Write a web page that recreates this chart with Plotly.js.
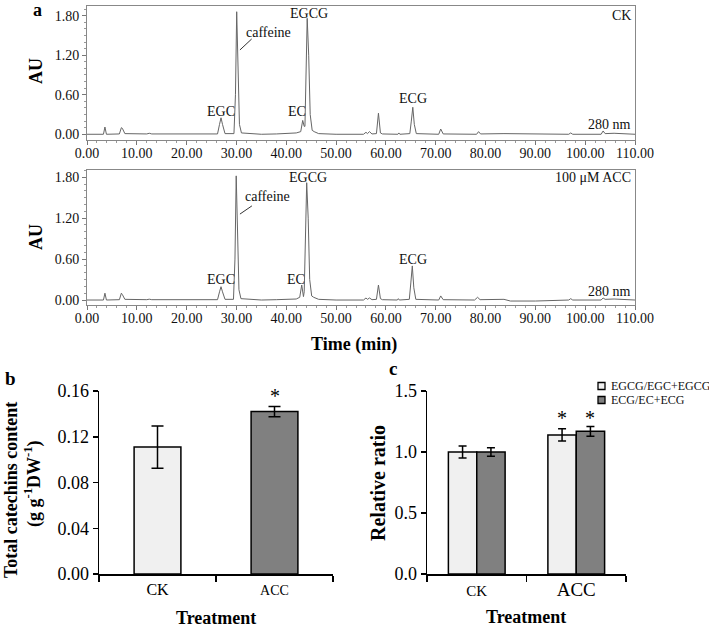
<!DOCTYPE html>
<html><head><meta charset="utf-8">
<script src="https://cdn.plot.ly/plotly-3.0.1.min.js"></script>
<style>html,body{margin:0;padding:0;background:#fff}</style>
</head><body><div id="chart" style="width:709px;height:629px"></div>
<script>
// ---- chromatogram data ----
const timeCK = [0,3.3,3.6,3.9,6.5,6.9,7.1,7.6,12,12.5,13,26.2,26.6,26.9,27.2,27.7,29.5,29.8,30.05,30.3,30.6,31.0,35,38,40,42,42.9,43.3,43.6,43.75,44.2,44.5,44.8,45.2,45.6,45.9,46.5,50,55.5,56.0,56.3,56.7,57.2,58.1,58.5,58.9,59.3,62.4,62.6,62.8,64.8,65.1,65.4,65.7,66.1,70.6,71.0,71.5,78.2,78.6,79.0,83.7,96.7,97.1,97.5,103.2,103.6,104.0,105.8,110];
const auCK = [0,0,0.11,0.0,0.005,0.10,0.09,0.01,0.005,0.015,0.005,0.005,0.15,0.25,0.15,0.01,0.01,0.6,1.86,1.0,0.15,0.02,0.0,0.005,0.01,0.02,0.04,0.21,0.12,0.12,1.76,1.2,0.3,0.06,0.04,0.03,0.01,0.0,0.0,0.03,0.01,0.04,0.005,0.01,0.32,0.02,0.005,0.0,0.02,0.0,0.01,0.2,0.41,0.15,0.01,0.0,0.08,0.005,0.0,0.04,0.005,0.01,0.0,0.02,0.0,0.0,0.05,0.01,0.015,0.0];
const timeACC = [0,3.3,3.6,3.9,6.5,6.9,7.1,7.6,12,12.5,13,26.2,26.6,26.9,27.2,27.7,29.4,29.7,29.95,30.2,30.5,30.9,35,38,40,42,42.7,43.1,43.45,43.6,44.1,44.4,44.7,45.1,45.5,45.9,46.5,50,55.5,56.0,56.3,56.7,57.2,58.1,58.5,58.9,59.3,62.3,62.5,62.7,64.7,65.0,65.3,65.6,66.0,70.6,71.0,71.5,77.8,78.4,78.9,83.7,85,90,96.7,97.1,97.5,103.2,103.6,104.0,105.8,110];
const auACC = [0,0,0.10,0.0,0.005,0.10,0.08,0.01,0.005,0.012,0.005,0.005,0.12,0.195,0.12,0.01,0.01,0.6,1.82,1.0,0.15,0.02,0.0,0.005,0.01,0.015,0.04,0.22,0.05,0.12,1.72,1.2,0.3,0.06,0.04,0.03,0.01,0.0,0.0,0.03,0.01,0.03,0.005,0.01,0.22,0.02,0.005,0.0,0.02,0.0,0.01,0.25,0.50,0.18,0.01,0.0,0.06,0.005,0.0,0.04,0.005,0.01,-0.015,-0.015,0.0,0.02,0.0,0.0,0.03,0.01,0.015,0.0];

// ---- bar data ----
const treatments = ['CK','ACC'];
const totalCatechins = [0.111, 0.142];
const totalCatechinsErr = [0.0185, 0.0045];
const ratioNames = ['EGCG/EGC+EGCG','ECG/EC+ECG'];
const ratioEGCG = [1.0, 1.14];
const ratioEGCGErr = [0.05, 0.05];
const ratioECG = [1.0, 1.17];
const ratioECGErr = [0.035, 0.04];

const W = 709, H = 629;
const px = v => v / W;
const py = v => 1 - v / H;
const FONT = 'Liberation Serif, Times New Roman, serif';

const traces = [
  {x: timeCK, y: auCK, type:'scatter', mode:'lines', line:{color:'#666', width:1}, xaxis:'x', yaxis:'y', hoverinfo:'skip'},
  {x: timeACC, y: auACC, type:'scatter', mode:'lines', line:{color:'#666', width:1}, xaxis:'x2', yaxis:'y2', hoverinfo:'skip'},
  {x: treatments, y: totalCatechins, type:'bar', xaxis:'x3', yaxis:'y3', width:0.4,
   marker:{color:['#f0f0f0','#808080'], line:{color:'#000', width:1.5}},
   error_y:{type:'data', array: totalCatechinsErr, visible:true, color:'#000', thickness:1.5, width:6}},
  {x: treatments, y: ratioEGCG, name: ratioNames[0], type:'bar', xaxis:'x4', yaxis:'y4', width:0.285, offset:-0.285,
   marker:{color:'#f0f0f0', line:{color:'#000', width:1.5}},
   error_y:{type:'data', array: ratioEGCGErr, visible:true, color:'#000', thickness:1.5, width:4}},
  {x: treatments, y: ratioECG, name: ratioNames[1], type:'bar', xaxis:'x4', yaxis:'y4', width:0.285, offset:0,
   marker:{color:'#808080', line:{color:'#000', width:1.5}},
   error_y:{type:'data', array: ratioECGErr, visible:true, color:'#000', thickness:1.5, width:4}}
];

const chromX = (anchor, dom) => ({
  domain: dom, anchor: anchor, range:[0,110], tickvals:[0,10,20,30,40,50,60,70,80,90,100,110],
  tickformat:'.2f', ticks:'outside', ticklen:4, tickcolor:'#777', showline:true, linecolor:'#888', linewidth:1,
  mirror:true, showgrid:false, zeroline:false, tickfont:{family:FONT, size:14, color:'#111'},
  ticklabelstandoff:-4,
  minor:{dtick:2, ticks:'outside', ticklen:2, tickcolor:'#999'}
});
const chromY = (anchor, dom, rng) => ({
  domain: dom, anchor: anchor, range: rng, tickvals:[0,0.6,1.2,1.8], tickformat:'.2f',
  ticks:'outside', ticklen:4, tickcolor:'#777', showline:true, linecolor:'#888', linewidth:1, mirror:true,
  showgrid:false, zeroline:false, tickfont:{family:FONT, size:14, color:'#111'},
  minor:{dtick:0.1, ticks:'outside', ticklen:2, tickcolor:'#999'}
});

const layout = {
  width: W, height: H, margin:{l:0,r:0,t:0,b:0}, paper_bgcolor:'#fff', plot_bgcolor:'#fff',
  showlegend:false, barmode:'overlay', font:{family:FONT, color:'#000'},
  xaxis: chromX('y', [px(87), px(635)]),
  yaxis: chromY('x', [py(140), py(6)], [-0.087, 1.947]),
  xaxis2: chromX('y2', [px(87), px(635)]),
  yaxis2: chromY('x2', [py(305), py(170)], [-0.073, 1.906]),
  xaxis3: {domain:[px(99), px(333)], anchor:'y3', type:'category', range:[-0.5,1.5], tickson:'boundaries',
    ticks:'outside', ticklen:6, tickwidth:1.5, tickcolor:'#000', showline:true, linecolor:'#000', linewidth:1.5,
    showgrid:false, tickmode:'array', tickvals:treatments,
    ticktext:['CK','<span style="font-size:14px">ACC</span>'], tickfont:{family:FONT, size:16}},
  yaxis3: {domain:[py(574), py(391)], anchor:'x3', range:[0,0.16], tickvals:[0,0.04,0.08,0.12,0.16], tickformat:'.2f',
    ticks:'outside', ticklen:5, tickwidth:1.5, tickcolor:'#000', showline:true, linecolor:'#000', linewidth:1.5,
    showgrid:false, zeroline:false, tickfont:{family:FONT, size:18}},
  xaxis4: {domain:[px(427), px(626)], anchor:'y4', type:'category', range:[-0.5,1.5], tickson:'boundaries',
    ticks:'outside', ticklen:6, tickwidth:1.5, tickcolor:'#000', showline:true, linecolor:'#000', linewidth:1.5,
    showgrid:false, tickmode:'array', tickvals:treatments,
    ticktext:['<span style="font-size:15px">CK</span>','<span style="font-size:19px">ACC</span>'], tickfont:{family:FONT, size:17}},
  yaxis4: {domain:[py(574), py(391)], anchor:'x4', range:[0,1.5], tickvals:[0,0.5,1.0,1.5], tickformat:'.1f',
    ticks:'outside', ticklen:5, tickwidth:1.5, tickcolor:'#000', showline:true, linecolor:'#000', linewidth:1.5,
    showgrid:false, zeroline:false, tickfont:{family:FONT, size:18}},
  shapes: [
    {type:'line', xref:'x', yref:'y', x0:30.7, y0:1.28, x1:33.05, y1:1.446, line:{color:'#333', width:1}},
    {type:'line', xref:'x2', yref:'y2', x0:30.7, y0:1.26, x1:33.1, y1:1.38, line:{color:'#333', width:1}},
    {type:'rect', xref:'paper', yref:'paper', x0:px(598), x1:px(605), y0:py(389.5), y1:py(382.5), fillcolor:'#f0f0f0', line:{color:'#000', width:1.3}},
    {type:'rect', xref:'paper', yref:'paper', x0:px(598), x1:px(605), y0:py(403.5), y1:py(396.5), fillcolor:'#808080', line:{color:'#000', width:1.3}}
  ],
  annotations: []
};

const A = layout.annotations;
const txt = (o) => A.push(Object.assign({showarrow:false, font:{family:FONT, size:14, color:'#111'}}, o));
// chromatogram labels
[['x','y',[['EGC',26.9,0.34],['caffeine',36.5,1.55],['EC',42.1,0.34],['EGCG',44.6,1.83],['ECG',65.4,0.54]]],
 ['x2','y2',[['EGC',26.9,0.30],['caffeine',36.3,1.52],['EC',42.0,0.30],['EGCG',44.4,1.80],['ECG',65.4,0.60]]]
].forEach(([xr, yr, list]) => list.forEach(([t, x, y]) => txt({text:t, xref:xr, yref:yr, x:x, y:y, xanchor:'center', yanchor:'middle'})));
txt({text:'CK', xref:'paper', yref:'paper', x:px(633), y:py(15), xanchor:'right', yanchor:'middle'});
txt({text:'280 nm', xref:'paper', yref:'paper', x:px(633), y:py(125), xanchor:'right', yanchor:'middle'});
txt({text:'100 μM ACC', xref:'paper', yref:'paper', x:px(633), y:py(178), xanchor:'right', yanchor:'middle'});
txt({text:'280 nm', xref:'paper', yref:'paper', x:px(633), y:py(291), xanchor:'right', yanchor:'middle'});
// titles
const bold = (t, x, y, size, angle) => txt({text:'<b>'+t+'</b>', xref:'paper', yref:'paper', x:px(x), y:py(y), xanchor:'center', yanchor:'middle', textangle:angle||0, font:{family:FONT, size:size, color:'#000'}});
bold('a', 37, 10, 18); bold('b', 10, 378, 19); bold('c', 393, 368, 19);
bold('AU', 36, 71, 18, -90); bold('AU', 36, 237, 18, -90);
bold('Time (min)', 354, 344, 18);
bold('Total catechins content', 11, 490, 18, -90);
bold('(g g<sup>-1</sup>DW<sup>-1</sup>)', 33, 484, 18, -90);
bold('Treatment', 216, 618, 18);
bold('Relative ratio', 378, 483, 20, -90);
bold('Treatment', 526, 617, 18);
// asterisks
txt({text:'*', xref:'paper', yref:'paper', x:px(275), y:py(396), xanchor:'center', yanchor:'middle', font:{family:FONT, size:20, color:'#000'}});
txt({text:'*', xref:'x4', yref:'y4', x:1-0.1425, y:1.28, xanchor:'center', yanchor:'middle', font:{family:FONT, size:20, color:'#000'}});
txt({text:'*', xref:'x4', yref:'y4', x:1+0.1425, y:1.28, xanchor:'center', yanchor:'middle', font:{family:FONT, size:20, color:'#000'}});
// legend texts
txt({text:ratioNames[0], xref:'paper', yref:'paper', x:px(609), y:py(386), xanchor:'left', yanchor:'middle', font:{family:FONT, size:12, color:'#111'}});
txt({text:ratioNames[1], xref:'paper', yref:'paper', x:px(609), y:py(400), xanchor:'left', yanchor:'middle', font:{family:FONT, size:12, color:'#111'}});

Plotly.newPlot('chart', traces, layout, {staticPlot:true, displayModeBar:false});
</script></body></html>
